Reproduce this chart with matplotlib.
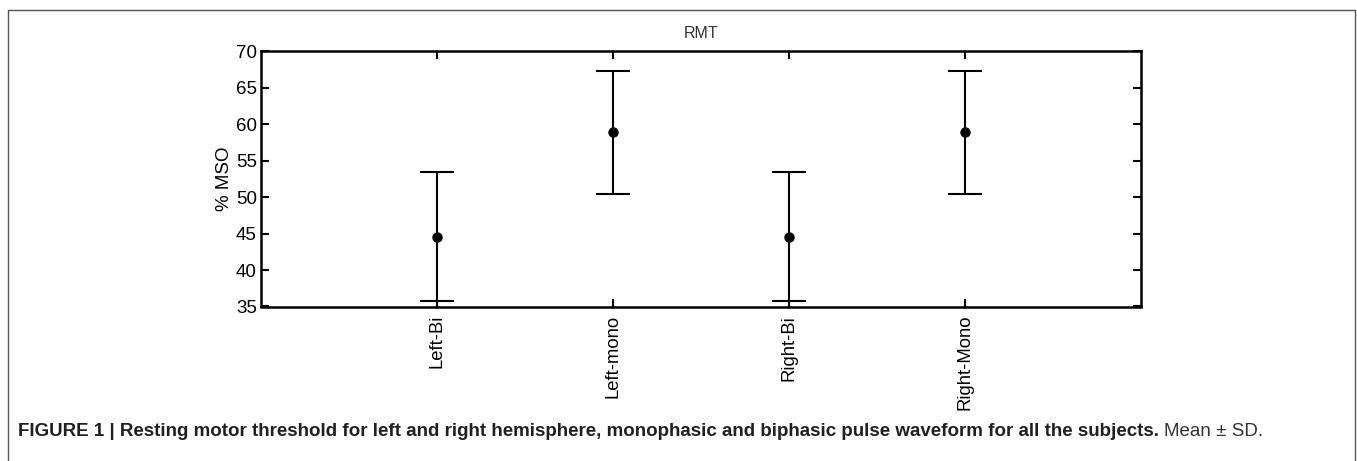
import matplotlib
matplotlib.use("Agg")
import matplotlib.pyplot as plt
from matplotlib.lines import Line2D

plt.rcParams["font.family"] = ["Liberation Sans", "DejaVu Sans"]

# dados (média ± DP)
condicoes = ["Left-Bi", "Left-mono", "Right-Bi", "Right-Mono"]
medias = [44.6, 58.9, 44.6, 58.9]
desvios = [8.8, 8.45, 8.8, 8.45]
posicoes = [1, 2, 3, 4]

W, H = 1357, 461
fig = plt.figure(figsize=(W / 100, H / 100), dpi=100)

# moldura externa
cinza = "#555555"
fig.add_artist(Line2D([8 / W, 8 / W, 1355 / W, 1355 / W],
                      [0, 1 - 10 / H, 1 - 10 / H, 0],
                      transform=fig.transFigure, color=cinza, lw=1.0))

ax = fig.add_axes([261 / W, 1 - 306.5 / H, 880 / W, 255 / H])
ax.errorbar(posicoes, medias, yerr=desvios, fmt="o", color="black",
            ecolor="black", elinewidth=1.5, capsize=12.5, capthick=1.5,
            markersize=6.5)

ax.set_xlim(0, 5)
ax.set_ylim(35, 70)
ax.set_yticks(range(35, 71, 5))
ax.set_xticks(posicoes)
ax.set_xticklabels(condicoes, rotation=90, fontsize=13.3)
ax.tick_params(axis="y", labelsize=13.5, pad=3)
ax.tick_params(axis="x", pad=6)
ax.tick_params(direction="in", length=6, width=1.5, top=True, right=True)
for s in ax.spines.values():
    s.set_linewidth(1.8)

ax.set_title("RMT", fontsize=11.5, color="#333333", pad=10)
ax.set_ylabel("% MSO", fontsize=13.5, labelpad=2)

# legenda da figura
y_leg = 1 - 431 / H
t1 = fig.text(18 / W, y_leg, "FIGURE 1 | Resting motor threshold for left and right hemisphere, "
              "monophasic and biphasic pulse waveform for all the subjects.",
              fontsize=13.5, fontweight="bold", color="#231f20", va="center")
fig.canvas.draw()
bb = t1.get_window_extent()
fig.text((bb.x1 + 5) / W, y_leg, "Mean \u00b1 SD.", fontsize=13.5,
         color="#333333", va="center")

fig.savefig("out.png", dpi=100)
